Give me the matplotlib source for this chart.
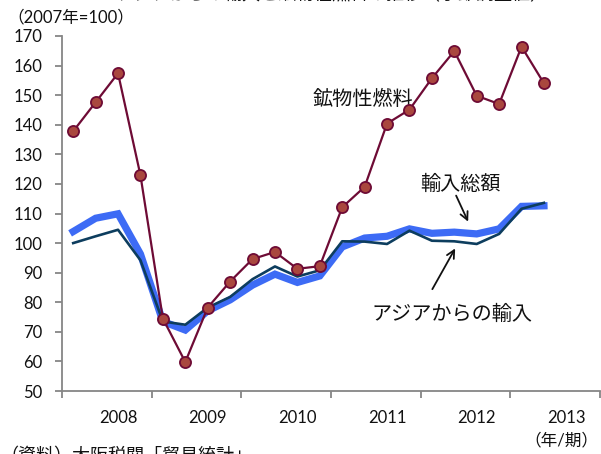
"""Quarterly import indices: total, from Asia, and mineral fuels."""

import matplotlib.pyplot as plt
import numpy as np

plt.rcParams["font.family"] = ["Lato", "Noto Sans CJK JP", "DejaVu Sans"]

# Quarterly indices (2007 = 100), 2007Q3 .. 2012Q4
total_imports = [103.9, 108.4, 109.9, 96.3, 73.5, 70.6, 77.1, 80.8, 85.8, 89.5, 86.7,
                 88.9, 98.7, 101.7, 102.3, 104.8, 103.3, 103.7, 103.1, 104.8, 112.4, 112.6]
asia_imports = [100.0, 102.3, 104.5, 94.2, 73.5, 72.4, 78.2, 81.8, 87.8, 92.1, 88.7,
                90.8, 100.6, 100.5, 99.7, 104.2, 100.8, 100.6, 99.7, 103.1, 111.6, 113.6]
mineral_fuels = [137.8, 147.6, 157.4, 122.9, 74.5, 59.8, 78.2, 87.0, 94.6, 97.0, 91.3,
                 92.2, 112.1, 119.0, 140.4, 145.1, 155.7, 164.9, 149.8, 147.0, 166.4, 154.0]

year_labels = ["2008", "2009", "2010", "2011", "2012", "2013"]
n_slots = 24  # six groups of four quarters on the category axis

AXIS_GRAY = "#868686"
FUEL_LINE = "#6E0B35"
FUEL_FILL = "#A9473E"
TOTAL_BLUE = "#3D6BF5"
ASIA_NAVY = "#0D3D5E"

fig = plt.figure(figsize=(6.01, 4.54), dpi=100, facecolor="white")
ax = fig.add_axes([62 / 601, 1 - 391 / 454, 538 / 601, (391 - 36) / 454])

x = np.arange(len(total_imports))
ax.plot(x, total_imports, color=TOTAL_BLUE, linewidth=5.2, solid_joinstyle="miter", zorder=2)
ax.plot(x, asia_imports, color=ASIA_NAVY, linewidth=1.9, zorder=3)
ax.plot(x, mineral_fuels, color=FUEL_LINE, linewidth=1.6, marker="o", markersize=8,
        markerfacecolor=FUEL_FILL, markeredgecolor=FUEL_LINE, markeredgewidth=1.3, zorder=4)

# Axes
ax.set_xlim(-0.5, n_slots - 0.5)
ax.set_ylim(50, 170)
ax.set_yticks(range(50, 171, 10))
ax.set_xticks(np.arange(-0.5, n_slots, 4))
ax.set_xticklabels([])
ax.set_xticks(np.arange(2, n_slots, 4), minor=True)
ax.set_xticklabels(year_labels, minor=True)

for side in ("top", "right"):
    ax.spines[side].set_visible(False)
for side in ("left", "bottom"):
    ax.spines[side].set_color(AXIS_GRAY)
    ax.spines[side].set_linewidth(1.3)

ax.tick_params(axis="y", length=5, width=1.3, color=AXIS_GRAY, labelsize=12, pad=9,
               labelcolor="#111111")
ax.tick_params(axis="x", which="major", length=5, width=1.3, color=AXIS_GRAY)
ax.tick_params(axis="x", which="minor", length=0, labelsize=12, pad=14, labelcolor="#111111")

# Series labels
ax.text(10.7, 149.0, "鉱物性燃料", fontsize=14.5, color="#111111", ha="left", va="center")
ax.text(15.5, 120.3, "輸入総額", fontsize=14.5, color="#111111", ha="left", va="center")
ax.text(13.3, 76.4, "アジアからの輸入", fontsize=14.5, color="#111111", ha="left", va="center")

arrow = dict(arrowstyle="->", color="#111111", lw=1.3, mutation_scale=14)
ax.annotate("", xy=(17.67, 106.4), xytext=(17.03, 116.9), arrowprops=arrow)
ax.annotate("", xy=(17.1, 99.0), xytext=(15.96, 83.6), arrowprops=arrow)

# Header and footer texts
fig.text(0.013, 1 - 17 / 454, "（2007年=100）", fontsize=12, color="#111111", ha="left", va="center")
fig.text(0.553, 0.993, "アジアからの輸入と鉱物性燃料の推移（季節調整値）", fontsize=13,
         color="#111111", ha="center", va="bottom")
fig.text(0.995, 1 - 440 / 454, "（年/期）", fontsize=12, color="#111111", ha="right", va="center")
fig.text(0.0, 1 - 447 / 454, "（資料）大阪税関「貿易統計」", fontsize=13, color="#111111",
         ha="left", va="top")

fig.savefig("out.png", dpi=100, facecolor="white")
plt.close(fig)
